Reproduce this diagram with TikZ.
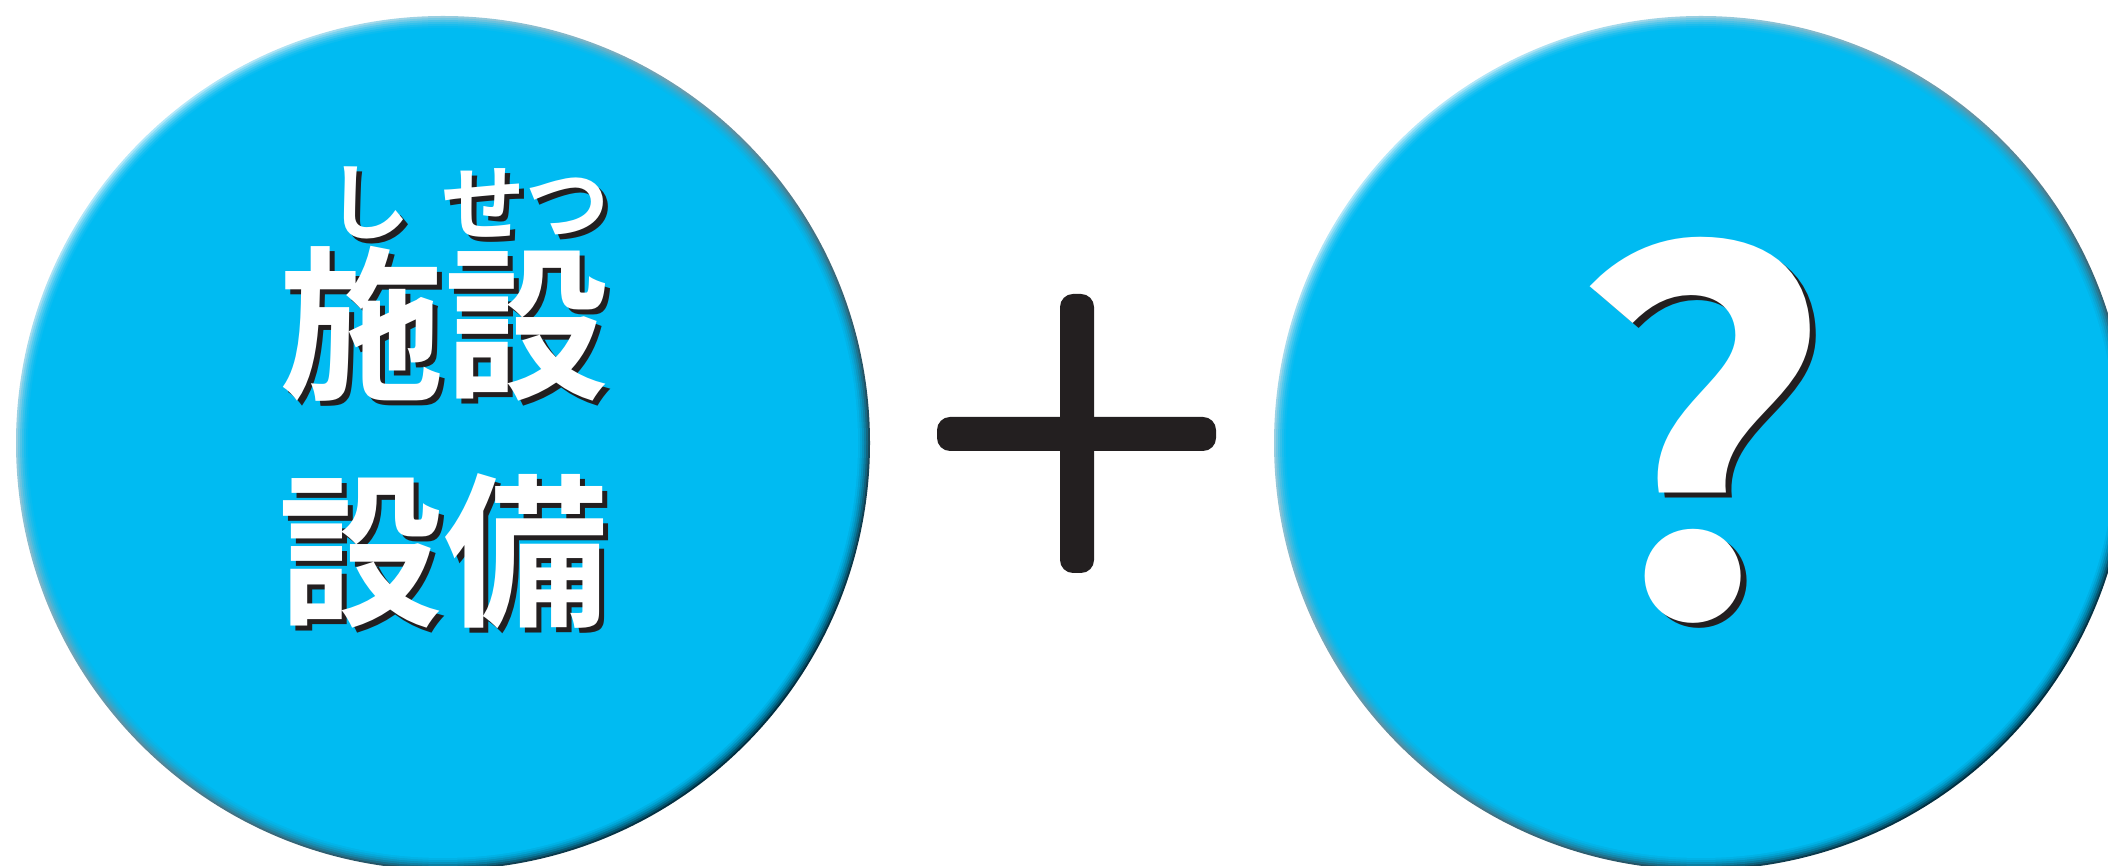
\documentclass[tikz,border=0pt]{standalone}
\usepackage{fontspec}
\newfontfamily\jpfont{Noto Sans CJK JP}[BoldFont={Noto Sans CJK JP Bold}]
\usetikzlibrary{positioning}
\definecolor{ballblue}{RGB}{0,187,242}
\definecolor{rimlight}{RGB}{178,232,250}
\definecolor{rimdark}{RGB}{0,46,64}
\definecolor{plusblack}{RGB}{35,31,32}

\begin{document}
\begin{tikzpicture}[
    x=1pt, y=1pt,
    ball/.style={circle, inner sep=0pt, minimum size=854pt, top color=rimlight, middle color=ballblue, bottom color=rimdark, shading angle=45},
    bar/.style={fill=plusblack, rounded corners=13pt},
    kanji/.style={text=white, inner sep=0pt, font={\jpfont\bfseries\fontsize{165}{165}\selectfont}},
    ruby/.style={kanji, font={\jpfont\bfseries\fontsize{84}{84}\selectfont}},
    qmark/.style={kanji, anchor=base, xscale=1.07, transform shape, font={\jpfont\bfseries\fontsize{490}{490}\selectfont}},
    drop/.style={text=plusblack},
]
    \useasboundingbox (0,0) rectangle (2108,866);
    \clip (0,0) rectangle (2108,866);

    % Circles
    \node[ball] (facility) at (443,423) {};
    \node[ball] (unknown) at (1701,423) {};
    \foreach \c in {facility, unknown}
        \foreach \d/\op in {2/0.25, 4/0.3, 6/0.35, 8/0.45, 10/0.6, 12/1}
            \fill[ballblue, fill opacity=\op] (\c.center) circle (427-\d);

    % Plus
    \node[inner sep=0pt] (plus) at (1077,432) {};
    \fill[bar] (1060,293) rectangle (1094,572);
    \fill[bar] (937,415) rectangle (1216,449);

    % Ruby
    \node[ruby, drop] (shi-sh) at (373,658) {し};
    \node[ruby] (shi) at (368,663) {し};
    \node[ruby, drop] (setsu-sh) at (530,658) {せつ};
    \node[ruby] (setsu) at (525,663) {せつ};

    % Words
    \node[kanji, drop] (shisetsu-sh) at (449,537) {施設};
    \node[kanji] (shisetsu) at (444,542) {施設};
    \node[kanji, drop] (setsubi-sh) at (448,310) {設備};
    \node[kanji] (setsubi) at (443,315) {設備};

    % Question
    \node[qmark, drop] (question-sh) at (1707,244) {?};
    \node[qmark] (question) at (1701,249) {?};
\end{tikzpicture}
\end{document}
